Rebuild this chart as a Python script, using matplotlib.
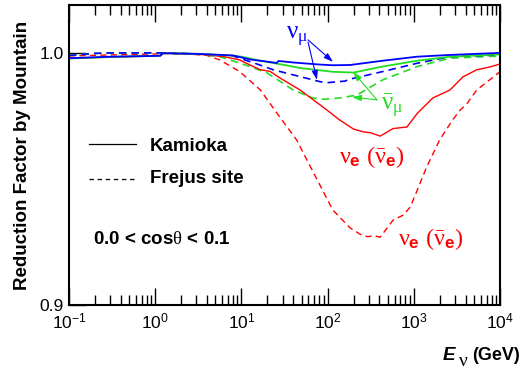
import numpy as np
import matplotlib
matplotlib.use("Agg")
import matplotlib.pyplot as plt
from matplotlib.ticker import FixedLocator, FixedFormatter, LogLocator

plt.rcParams['font.family'] = ['Liberation Sans', 'DejaVu Sans']
# upright serif greek for the annotations (used through math_fontfamily='custom')
plt.rcParams['mathtext.rm'] = 'Liberation Serif'
plt.rcParams['mathtext.it'] = 'Liberation Serif'
plt.rcParams['mathtext.bf'] = 'Liberation Sans:bold'

# log10(E/GeV) and reduction factor
kam_numu_x = [-1.0, -0.5, 0.0, 0.06, 0.09, 0.5, 0.9, 1.1, 1.35, 1.41, 1.43, 1.6, 1.9, 2.06, 2.26, 2.64, 3.04, 3.42, 4.0]
kam_numu_y = [0.9979, 0.9985, 0.9988, 0.9989, 0.9999, 0.9996, 0.9990, 0.9974, 0.9963, 0.9960, 0.9968, 0.9962, 0.9954, 0.9951, 0.9952, 0.9969, 0.9985, 0.9992, 1.0]

kam_numubar_x = [-1.0, -0.5, 0.0, 0.06, 0.09, 0.52, 0.9, 1.0, 1.22, 1.5, 1.68, 2.06, 2.3, 2.64, 3.04, 3.42, 4.0]
kam_numubar_y = [0.9978, 0.9984, 0.9988, 0.9989, 0.9999, 0.9996, 0.9989, 0.9985, 0.9969, 0.9952, 0.9940, 0.9925, 0.9922, 0.9946, 0.9969, 0.9985, 0.9994]

kam_nue_x = [-1.0, 0.0, 0.06, 0.09, 0.5, 0.8, 0.98, 1.1, 1.22, 1.33, 1.45, 1.68, 1.99, 2.14, 2.3, 2.41, 2.5, 2.61, 2.76, 2.92, 3.04, 3.22, 3.42, 3.57, 3.73, 3.88, 4.0]
kam_nue_y = [0.9979, 0.9988, 0.9989, 0.9999, 0.9995, 0.9985, 0.9972, 0.9952, 0.9933, 0.9927, 0.9900, 0.9853, 0.9774, 0.9734, 0.9698, 0.9687, 0.9683, 0.9670, 0.9700, 0.9706, 0.9760, 0.9821, 0.9853, 0.9905, 0.9933, 0.9944, 0.9956]

fre_numu_x = [-1.0, -0.7, -0.5, 0.06, 0.5, 0.9, 1.18, 1.37, 1.68, 1.91, 2.0, 2.2, 2.26, 2.64, 3.04, 3.42, 4.0]
fre_numu_y = [0.9990, 0.9998, 1.0, 1.0, 0.9996, 0.9988, 0.9956, 0.9933, 0.9906, 0.9886, 0.9882, 0.9888, 0.9896, 0.9926, 0.9959, 0.9985, 0.9992]

fre_numubar_x = [-1.0, -0.7, -0.5, 0.06, 0.5, 0.75, 1.1, 1.3, 1.6, 1.83, 1.95, 2.14, 2.34, 2.64, 3.04, 3.42, 4.0]
fre_numubar_y = [0.9990, 0.9998, 1.0, 1.0, 0.9995, 0.9985, 0.9946, 0.9920, 0.9853, 0.9821, 0.9816, 0.9821, 0.9833, 0.9893, 0.9946, 0.9979, 0.9988]

fre_nue_x = [-1.0, -0.5, 0.0, 0.1, 0.4, 0.6, 0.75, 0.98, 1.22, 1.41, 1.64, 1.88, 2.06, 2.26, 2.38, 2.46, 2.54, 2.61, 2.76, 2.88, 2.96, 3.15, 3.30, 3.45, 3.54, 3.62, 3.73, 3.88, 4.0]
fre_nue_y = [0.9988, 0.9992, 0.9996, 0.9997, 0.9995, 0.9990, 0.9972, 0.9926, 0.9853, 0.9762, 0.9655, 0.9496, 0.9377, 0.9306, 0.9280, 0.9271, 0.9275, 0.9269, 0.9337, 0.9357, 0.9389, 0.9548, 0.9655, 0.9734, 0.9774, 0.9800, 0.9853, 0.9893, 0.9925]

x_ticks = [0.1, 1, 10, 100, 1000, 10000]
x_tick_labels = [r'$\mathdefault{10^{-1}}$', r'$\mathdefault{10^{0}}$', r'$\mathdefault{10^{1}}$',
                 r'$\mathdefault{10^{2}}$', r'$\mathdefault{10^{3}}$', r'$\mathdefault{10^{4}}$']
y_ticks = [0.9, 1.0]
y_tick_labels = ['0.9', '1.0']

BLUE = '#0000ff'
GREEN = '#22dd22'
RED = '#ff0000'
DASH = (0, (4.5, 3))


def E(logs):
    return 10.0 ** np.asarray(logs)


fig = plt.figure(figsize=(5.29, 3.73), dpi=100)
ax = fig.add_axes([69 / 529, 1 - 305 / 373, 431 / 529, 300 / 373])

ax.plot(E(fre_nue_x), fre_nue_y, color=RED, lw=1.0, ls=DASH)
ax.plot(E(fre_numubar_x), fre_numubar_y, color=GREEN, lw=1.2, ls=DASH)
ax.plot(E(fre_numu_x), fre_numu_y, color=BLUE, lw=1.2, ls=DASH)
ax.plot(E(kam_nue_x), kam_nue_y, color=RED, lw=1.0)
ax.plot(E(kam_numubar_x), kam_numubar_y, color=GREEN, lw=1.3)
ax.plot(E(kam_numu_x), kam_numu_y, color=BLUE, lw=1.3)

ax.set_xscale('log')
ax.set_xlim(0.1, 1e4)
ax.set_ylim(0.9, 1.019)

ax.xaxis.set_major_locator(FixedLocator(x_ticks))
ax.xaxis.set_major_formatter(FixedFormatter(x_tick_labels))
ax.xaxis.set_minor_locator(LogLocator(base=10, subs=np.arange(2, 10), numticks=20))
ax.yaxis.set_major_locator(FixedLocator(y_ticks))
ax.yaxis.set_major_formatter(FixedFormatter(y_tick_labels))
ax.yaxis.set_minor_locator(FixedLocator([]))

ax.tick_params(axis='x', which='both', direction='in', top=True, bottom=True, labelsize=12.5, pad=5)
ax.tick_params(axis='y', which='both', direction='in', left=True, right=False, labelsize=12.5, pad=4)
ax.tick_params(which='major', length=12, width=1.0)
ax.tick_params(which='minor', length=7, width=1.0)
for s in ax.spines.values():
    s.set_linewidth(1.5)

ax.set_ylabel('Reduction Factor by Mountain', fontsize=13.5, fontweight='bold', labelpad=6)

# x label pieces
fig.text(443 / 529, 1 - 355 / 373, 'E', fontsize=13.5, fontweight='bold', style='italic', va='center', ha='left')
fig.text(458 / 529, 1 - 362 / 373, r'$\nu$', fontsize=14, math_fontfamily='custom', va='center', ha='left')
fig.text(472 / 529, 1 - 355 / 373, '(GeV)', fontsize=13, fontweight='bold', va='center', ha='left')

# legend drawn by hand
ax.plot([0.0464, 0.1555], [0.5367, 0.5367], color='black', lw=0.9, transform=ax.transAxes)
ax.plot([0.0464, 0.1555], [0.42, 0.42], color='black', lw=0.9, ls=(0, (3.5, 3)), transform=ax.transAxes)
ax.text(0.188, 0.527, 'Kamioka', fontsize=13.5, fontweight='bold', va='center', transform=ax.transAxes)
ax.text(0.188, 0.423, 'Frejus site', fontsize=13.5, fontweight='bold', va='center', transform=ax.transAxes)
ax.text(0.0557, 0.2167, r'0.0 < cos$\theta$ < 0.1', fontsize=13.5, fontweight='bold', va='center',
        math_fontfamily='custom', transform=ax.transAxes)

# curve annotations
ax.text(10 ** 1.517, 1.00516, r'$\nu_{\mu}$', color=BLUE, fontsize=18, math_fontfamily='custom', va='baseline')
arr = dict(arrowstyle='-|>,head_length=0.55,head_width=0.18', lw=0.8, shrinkA=0, shrinkB=0)
ax.annotate('', xy=(10 ** 2.063, 0.99643), xytext=(10 ** 1.773, 1.00516), arrowprops=dict(arr, color=BLUE))
ax.annotate('', xy=(10 ** 1.877, 0.98929), xytext=(10 ** 1.773, 1.0043), arrowprops=dict(arr, color=BLUE))

ax.text(10 ** 2.619, 0.97738, r'$\bar{\nu}_{\mu}$', color=GREEN, fontsize=18, math_fontfamily='custom', va='baseline')
ax.annotate('', xy=(10 ** 2.295, 0.99246), xytext=(10 ** 2.573, 0.98135), arrowprops=dict(arr, color=GREEN))
ax.annotate('', xy=(10 ** 2.283, 0.98254), xytext=(10 ** 2.573, 0.98135), arrowprops=dict(arr, color=GREEN))

ax.text(10 ** 2.132, 0.95635, r'$\nu_{\mathbf{e}}\ (\bar{\nu}_{\mathbf{e}})$', color=RED, fontsize=17.5,
        math_fontfamily='custom', va='baseline')
ax.text(10 ** 2.817, 0.92381, r'$\nu_{\mathbf{e}}\ (\bar{\nu}_{\mathbf{e}})$', color=RED, fontsize=17.5,
        math_fontfamily='custom', va='baseline')

fig.savefig('out.png', dpi=100)
